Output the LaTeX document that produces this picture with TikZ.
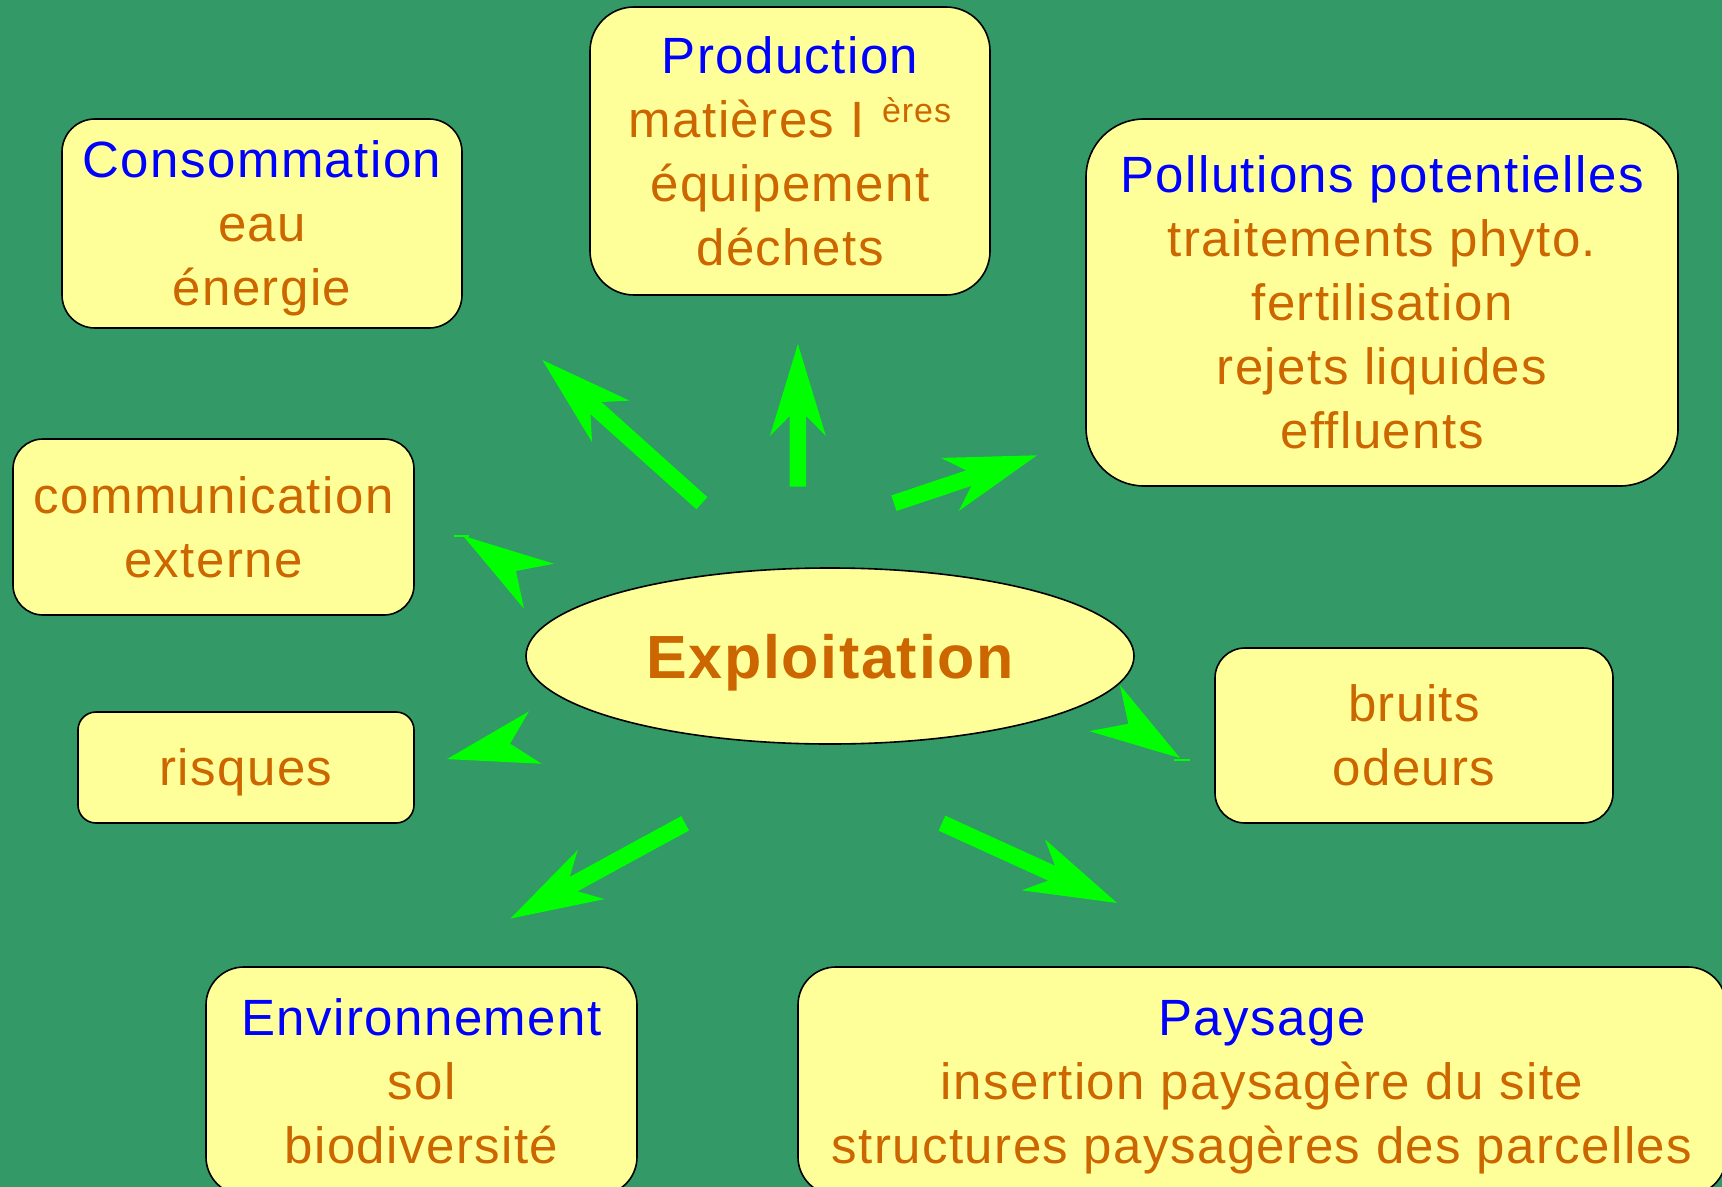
\documentclass[tikz,border=0pt]{standalone}
\usepackage{fontspec}
\setmainfont[Ligatures=CommonOff, LetterSpace=2.8]{Liberation Sans}
\usetikzlibrary{calc,shapes.geometric}
\definecolor{bggreen}{HTML}{339966}
\definecolor{boxfill}{HTML}{FFFF99}
\definecolor{tblue}{HTML}{0000FF}
\definecolor{torange}{HTML}{CC6600}
\definecolor{agreen}{HTML}{00FF00}
\newcommand{\ttl}[1]{{\color{tblue}#1}}
\newcommand{\bst}{\rule[-6.4pt]{0pt}{31pt}}
\newcommand{\est}{\rule[-7.6pt]{0pt}{37.6pt}}
% #1 name, #2 x, #3 y, #4 angle, #5 length, #6 shaft half width, #7 notch back, #8 barb back, #9 barb half width
\newcommand{\garrow}[9]{%
  \coordinate (#1s) at (#2,#3);
  \begin{scope}[shift={(#1s)}, rotate=#4]
    \coordinate (#1e) at (#5,0);
    \fill[arrowfill] (0,-#6) -- ({#5-#7},-#6) -- ({#5-#8},-#9) -- (#1e)
      -- ({#5-#8},#9) -- ({#5-#7},#6) -- (0,#6) -- cycle;
  \end{scope}}
\begin{document}
\begin{tikzpicture}[x=0.5pt,y=-0.5pt,
  box/.style={draw=black, line width=0.8pt, fill=boxfill, rectangle, align=center,
    inner sep=0pt, text=torange, font=\fontsize{25.5}{32}\selectfont},
  arrowfill/.style={fill=agreen}]
\useasboundingbox (0,0) rectangle (1722,1187);
\fill[bggreen] (0,0) rectangle (1722,1187);

\node[box, rounded corners=16.5pt, minimum width=200pt, minimum height=104.5pt] (cons) at (262,223.5)
  {\bst\ttl{Consommation}\\eau\\\bst énergie};
\node[box, rounded corners=22pt, minimum width=200pt, minimum height=144pt] (prod) at (790,151)
  {\bst\ttl{Production}\\matières I\hspace{0.35em}\raisebox{7.5pt}{\fontsize{17}{17}\selectfont ères}\\équipement\\\bst déchets};
\node[box, rounded corners=29pt, minimum width=296pt, minimum height=183.5pt] (poll) at (1382,302.5)
  {\bst\ttl{Pollutions potentielles}\\traitements phyto.\\fertilisation\\rejets liquides\\\bst effluents};
\node[box, rounded corners=15pt, minimum width=200.5pt, minimum height=88pt] (comm) at (213.5,527)
  {\bst communication\\\bst externe};
\node[box, rounded corners=9pt, minimum width=168pt, minimum height=55.5pt] (risq) at (246,767.5)
  {\bst risques};
\node[box, rounded corners=15pt, minimum width=199pt, minimum height=87.5pt] (bruit) at (1414,735.5)
  {\bst bruits\\\bst odeurs};
\node[box, rounded corners=19pt, minimum width=215.5pt, minimum height=114pt] (env) at (421.5,1081)
  {\bst\ttl{Environnement}\\sol\\\bst biodiversité};
\node[box, rounded corners=19pt, minimum width=464pt, minimum height=114pt] (pays) at (1262,1081)
  {\bst\ttl{Paysage}\\insertion paysagère du site\\\bst structures paysagères des parcelles};
\node[draw=black, line width=0.8pt, fill=boxfill, ellipse, inner sep=0pt,
  minimum width=304pt, minimum height=88pt, text=torange,
  font=\fontsize{30.5}{36}\selectfont\bfseries] (expl) at (830,656) {\est Exploitation};

% arrows
\garrow{aCons}{701.9}{503.2}{138.1}{214.4}{8.2}{72}{92}{28}
\garrow{aProd}{797.9}{486.7}{90}{142.7}{8.2}{72}{92}{28}
\garrow{aPoll}{893.9}{503.2}{18.5}{151}{8.2}{72}{92}{28}
\garrow{aComm}{516}{571}{146.4}{63.5}{0}{63.5}{91}{27}
\garrow{aRisq}{510.1}{743.7}{193.7}{65}{0}{65}{91}{27}
\garrow{aBruit}{1128.3}{723.8}{-33.5}{62}{0}{62}{90.5}{27.7}
\garrow{aEnv}{685.1}{823.3}{208.6}{199}{8.2}{72}{92}{28}
\garrow{aPays}{942}{823.2}{-24.5}{192.4}{8.2}{72}{92}{28}
\draw[agreen, line width=1pt] ($(aComme)+(-9,0)$) -- ++(15,0);
\draw[agreen, line width=1pt] ($(aBruite)+(-6,2)$) -- ++(16,0);
\end{tikzpicture}
\end{document}
